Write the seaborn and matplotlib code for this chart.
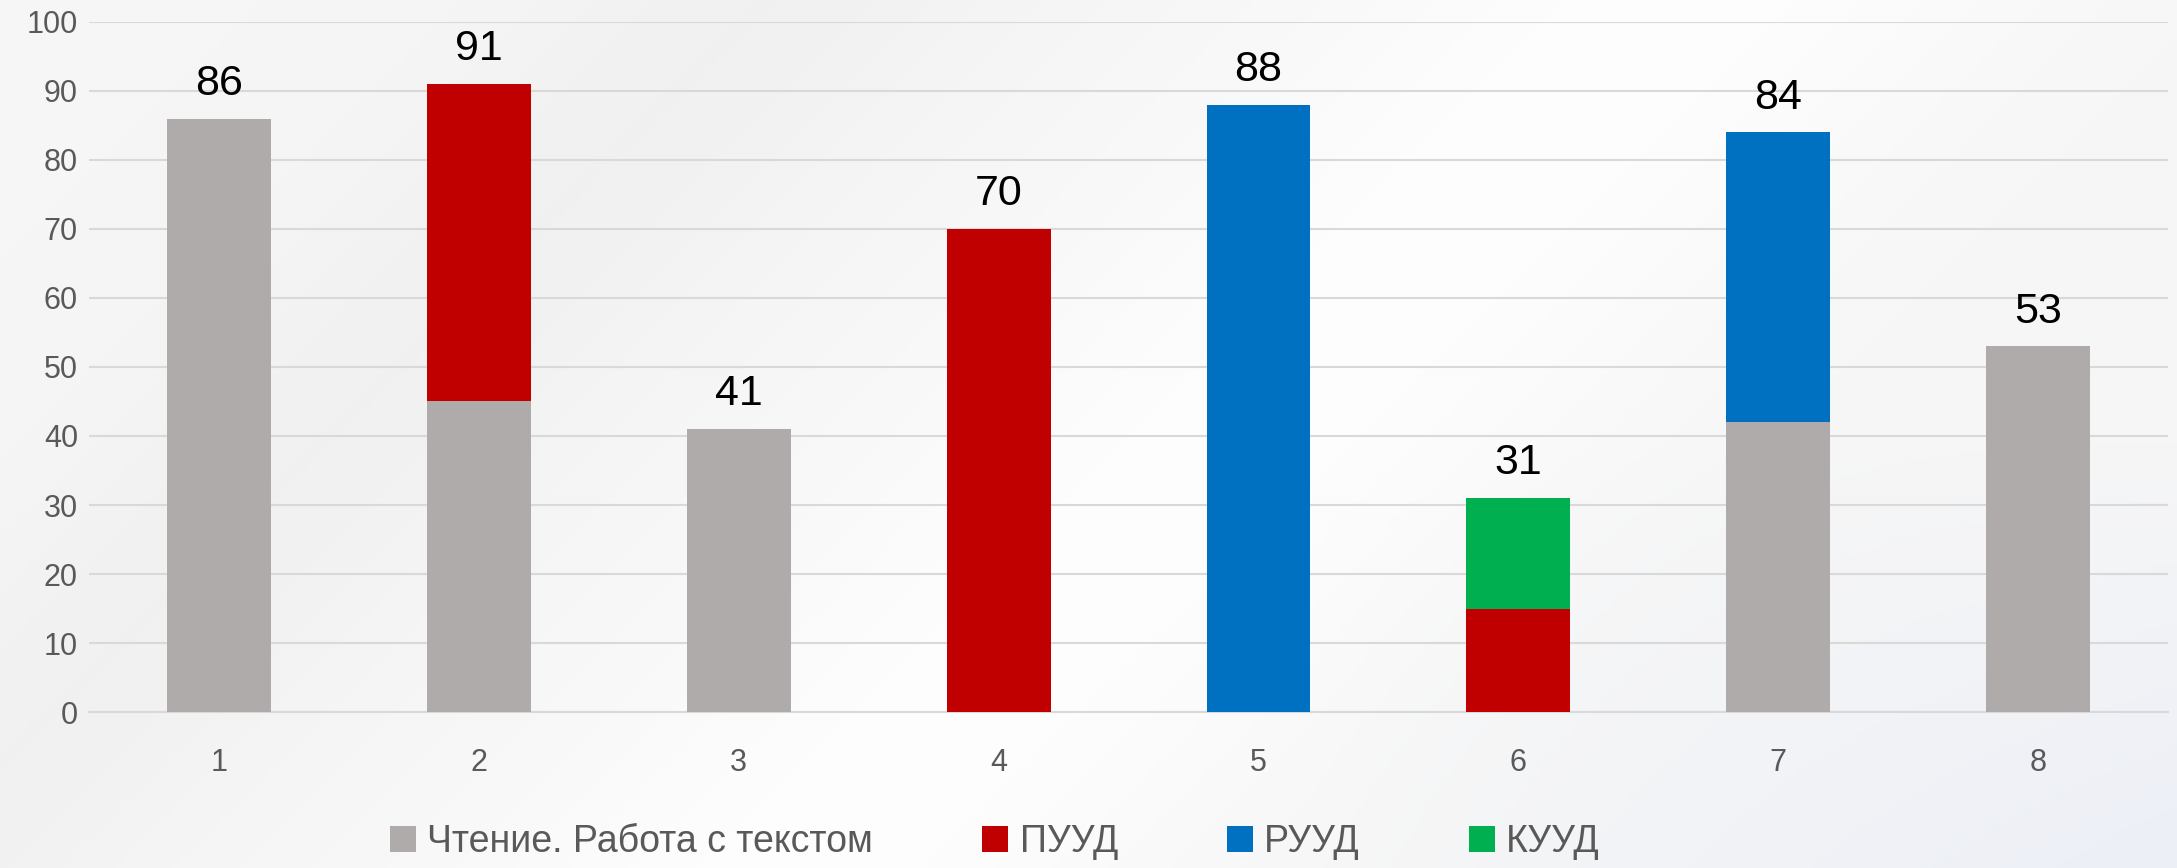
import numpy as np
import pandas as pd
import matplotlib
matplotlib.use("Agg")
import matplotlib.pyplot as plt
from matplotlib.patches import Patch
import seaborn as sns

categories = ["1", "2", "3", "4", "5", "6", "7", "8"]
series_names = ["Чтение. Работа с текстом", "ПУУД", "РУУД", "КУУД"]
chtenie = [86, 45, 41, 0, 0, 0, 42, 53]
puud = [0, 46, 0, 70, 0, 15, 0, 0]
ruud = [0, 0, 0, 0, 88, 0, 42, 0]
kuud = [0, 0, 0, 0, 0, 16, 0, 0]
totals = [86, 91, 41, 70, 88, 31, 84, 53]
colors = ["#AFABAB", "#C00000", "#0070C0", "#00B050"]

sns.set_theme(style="white")
plt.rcParams["font.family"] = ["Liberation Sans", "DejaVu Sans"]

fig = plt.figure(figsize=(21.77, 8.68), dpi=100)

# soft background
bg = fig.add_axes([0, 0, 1, 1], zorder=-10)
H, W = 200, 500
yy, xx = np.mgrid[0:H, 0:W]
u = xx / W
v = yy / H
d = (u * 2.5 + v) / 3.5
base = 0.965 - 0.02 * np.exp(-((d - 0.25) / 0.08) ** 2) + 0.03 * np.exp(-((d - 0.55) / 0.12) ** 2)
img = np.dstack([base, base, base])
tint = np.clip((u - 0.6) * 2, 0, 1) * np.clip((v - 0.5) * 2, 0, 1)
img[..., 0] -= 0.05 * tint
img[..., 1] -= 0.035 * tint
img = np.clip(img, 0, 1)
bg.imshow(img, aspect="auto", extent=[0, 1, 0, 1])
bg.axis("off")

ax = fig.add_axes([0.0409, 0.1797, 0.955, 0.795])
ax.patch.set_alpha(0)

df = pd.DataFrame({"cat": categories, "s0": chtenie, "s1": puud, "s2": ruud, "s3": kuud})
bottoms = np.zeros(len(categories))
for i, col in enumerate(["s0", "s1", "s2", "s3"]):
    sns.barplot(data=df, x="cat", y=col, color=colors[i], width=0.4,
                bottom=bottoms.copy(), ax=ax, linewidth=0, edgecolor="none",
                saturation=1, zorder=3)
    bottoms += np.array(df[col])

for i, t in enumerate(totals):
    ax.annotate(str(t), (i, t), xytext=(0, 25), textcoords="offset points",
                ha="center", va="center", fontsize=31, color="black")

ax.set_xlim(-0.5, 7.5)
ax.set_ylim(0, 100)
ax.set_yticks(range(0, 101, 10))
ax.set_xlabel("")
ax.set_ylabel("")
ax.yaxis.grid(True, color="#D9D9D9", linewidth=1.5, zorder=0)
ax.set_axisbelow(True)
for s in ["top", "right", "left"]:
    ax.spines[s].set_visible(False)
ax.spines["bottom"].set_color("#D9D9D9")
ax.spines["bottom"].set_linewidth(1.5)
ax.tick_params(axis="both", length=0, labelsize=22, labelcolor="#595959")
ax.tick_params(axis="x", pad=26)
ax.tick_params(axis="y", pad=8)

handles = [Patch(facecolor=c, edgecolor="none") for c in colors]
fig.legend(handles, series_names, loc="center", bbox_to_anchor=(0.457, 0.03),
           ncol=4, frameon=False, fontsize=27, handlelength=0.7, handleheight=0.7,
           handletextpad=0.3, columnspacing=2.9, labelcolor="#595959")

fig.savefig("out.png", dpi=100)
